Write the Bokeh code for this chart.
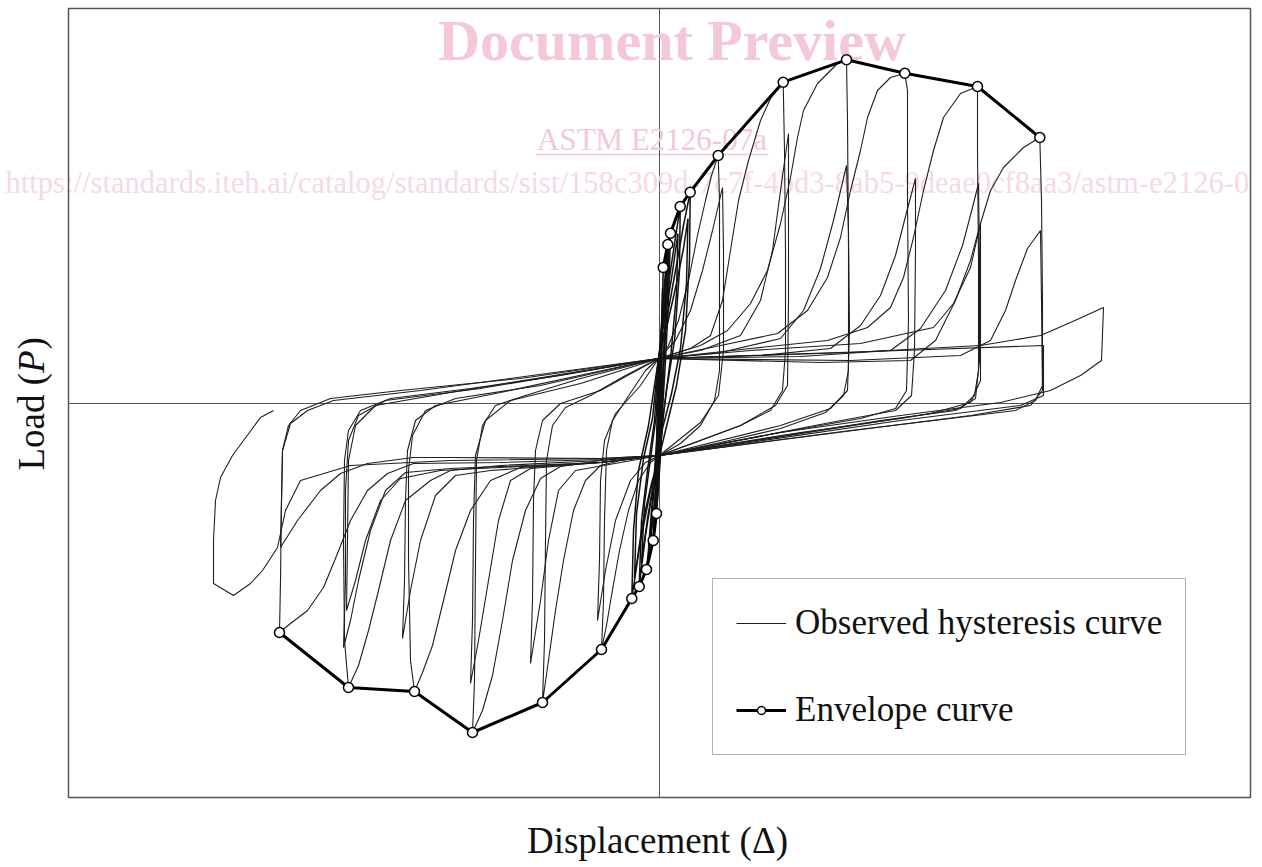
import math
from bokeh.plotting import figure
from bokeh.models import Range1d, Label, Legend, LegendItem, BoxAnnotation
from bokeh.embed import file_html
from bokeh.resources import INLINE

# ---------------- data (displacement, load) ----------------
env_pos_disp = [0.37, 0.83, 1.10, 2.07, 3.07, 5.87, 12.37, 18.70, 24.53, 31.80, 38.03]
env_pos_load = [13.60, 15.90, 17.03, 19.70, 21.13, 24.80, 32.13, 34.37, 33.03, 31.70, 26.60]
env_neg_disp = [-0.30, -0.63, -1.30, -2.03, -2.77, -5.80, -11.70, -18.70, -24.50, -31.10, -38.00]
env_neg_load = [-11.00, -13.70, -16.60, -18.30, -19.50, -24.60, -29.90, -32.90, -28.80, -28.40, -22.90]

c01_disp = [-0.3, -0.2, -0.1, 0.1, 0.3, 0.37, 0.3, 0.2, 0.1, -0.1, -0.3]
c01_load = [-11.0, -6.7, -1.7, 4.3, 10.3, 13.6, 8.3, 2.3, -2.7, -7.7, -11.0]
c01b_disp = [-0.25, -0.15, 0.0, 0.15, 0.3, 0.2, 0.1, -0.05, -0.25]
c01b_load = [-9.5, -5.0, 0.5, 6.0, 11.5, 6.0, 0.5, -5.0, -9.5]
c02_disp = [-0.63, -0.4, -0.2, -0.1, 0.0, 0.3, 0.6, 0.83, 0.7, 0.4, 0.2, 0.1, -0.2, -0.63]
c02_load = [-13.7, -8.7, -5.2, 0.3, 4.5, 9.3, 13.3, 15.9, 10.3, 4.3, -0.7, -5.2, -9.7, -13.7]
c02b_disp = [-0.55, -0.35, -0.1, 0.1, 0.4, 0.7, 0.55, 0.3, 0.05, -0.2, -0.55]
c02b_load = [-12.0, -7.0, -1.0, 4.5, 9.0, 13.5, 8.0, 2.0, -3.5, -8.0, -12.0]
c03_disp = [-1.3, -0.8, -0.4, -0.2, -0.1, 0.3, 0.7, 1.1, 0.9, 0.6, 0.3, 0.1, -0.4, -0.9, -1.3]
c03_load = [-16.6, -11.7, -6.7, -1.7, 3.3, 8.3, 12.8, 17.03, 10.3, 4.3, -0.7, -5.2, -9.7, -13.7, -16.6]
c03b_disp = [-1.1, -0.7, -0.3, -0.1, 0.3, 0.7, 0.95, 0.7, 0.4, 0.1, -0.3, -0.7, -1.1]
c03b_load = [-14.5, -9.5, -4.0, 3.5, 8.5, 12.0, 15.0, 9.0, 3.0, -4.0, -8.5, -11.5, -14.5]
c04_disp = [-2.03, -1.8, -1.2, -0.5, -0.1, 0.4, 1.1, 2.07, 2.0, 1.5, 0.7, 0.2, 0.0, -0.7, -1.4, -2.03]
c04_load = [-18.3, -11.7, -6.7, -1.7, 4.5, 8.3, 13.3, 19.7, 13.3, 6.3, 1.3, -2.7, -5.2, -8.7, -13.2, -18.3]
c04b_disp = [-1.8, -1.5, -0.9, -0.3, -0.1, 0.5, 1.2, 1.85, 1.7, 1.1, 0.4, 0.0, -0.6, -1.2, -1.8]
c04b_load = [-16.0, -10.0, -5.5, -1.0, 4.5, 8.5, 12.5, 17.0, 11.0, 4.5, -1.0, -5.2, -8.0, -11.5, -16.0]
c05_disp = [-2.77, -2.6, -2.1, -1.1, -0.1, 0.7, 1.6, 2.4, 3.07, 3.0, 2.6, 1.7, 0.6, 0.0, -0.9, -1.9, -2.77]
c05_load = [-19.5, -12.7, -6.7, -2.2, 4.5, 8.3, 13.3, 17.8, 21.13, 14.3, 7.3, 1.8, -2.7, -5.2, -8.7, -13.7, -19.5]
c05b_disp = [-2.5, -2.3, -1.6, -0.7, -0.1, 0.8, 1.7, 2.4, 2.85, 2.7, 2.1, 1.2, 0.3, 0.0, -0.8, -1.7, -2.5]
c05b_load = [-17.5, -11.0, -5.5, -1.5, 4.5, 8.0, 12.0, 15.5, 18.5, 12.0, 5.5, 1.0, -2.5, -5.2, -8.0, -12.0, -17.5]

c06_disp = [-0.1, 0.9, 1.9, 2.9, 3.8, 4.6, 5.2, 5.87, 6.0, 6.0, 6.0, 5.5, 4.1, 2.1, 0.0,
            -0.9, -2.1, -3.1, -4.0, -4.8, -5.3, -5.8, -5.6, -5.5, -5.3, -4.7, -3.4, -1.4, -0.1]
c06_load = [4.5, 5.8, 8.3, 12.3, 16.8, 20.3, 22.8, 24.8, 20.3, 10.3, 3.3, 0.3, -2.2, -4.0, -5.2,
            -5.9, -7.7, -10.7, -14.7, -19.2, -22.2, -24.6, -19.7, -11.7, -4.7, -1.7, 0.3, 3.3, 4.5]
c06b_disp = [-0.1, 1.6, 3.1, 4.3, 5.3, 6.3, 6.4, 6.4, 5.9, 4.1, 0.0,
             -1.4, -2.9, -4.4, -5.4, -6.2, -6.0, -5.9, -5.5, -4.4, -1.9, -0.1]
c06b_load = [4.5, 6.3, 9.3, 13.3, 17.3, 21.6, 15.3, 5.3, 0.8, -1.9, -5.2,
             -5.9, -7.7, -11.7, -16.7, -21.7, -15.7, -7.7, -3.7, -1.0, 1.8, 4.5]

c07_disp = [-0.1, 3.1, 5.1, 6.3, 7.1, 7.9, 8.9, 10.1, 11.1, 12.37, 12.5, 12.6, 12.6, 12.3, 11.1, 8.1, 4.1, 0.0,
            -3.9, -5.9, -7.4, -8.6, -9.6, -10.4, -11.1, -11.7, -11.5, -11.4, -11.3, -10.7, -9.4, -6.9, -3.4, -0.1]
c07_load = [4.5, 5.5, 6.8, 10.3, 15.3, 20.3, 24.3, 28.3, 30.5, 32.13, 25.3, 15.3, 5.3, 1.3, -0.7, -2.2, -3.7, -5.2,
            -5.7, -6.2, -7.7, -10.7, -15.7, -20.7, -25.7, -29.9, -23.7, -13.7, -5.7, -2.2, -0.4, 0.8, 2.8, 4.5]
c07b_disp = [-0.1, 4.1, 8.1, 10.1, 11.3, 12.1, 12.9, 12.9, 12.9, 12.8, 11.6, 8.1, 0.0,
             -3.9, -8.4, -10.1, -11.1, -11.9, -12.9, -12.7, -12.6, -12.4, -11.7, -9.9, -5.9, -0.1]
c07b_load = [4.5, 5.3, 6.8, 10.3, 15.3, 21.3, 27.0, 20.3, 10.3, 1.8, -0.2, -2.2, -5.2,
             -5.9, -6.7, -8.7, -13.7, -19.7, -26.0, -19.7, -9.7, -4.7, -1.7, 0.0, 1.3, 4.5]

c08_disp = [-0.1, 4.1, 6.8, 9.1, 10.8, 12.1, 13.1, 13.8, 14.4, 15.8, 17.8, 18.7, 18.8, 18.9, 18.9, 18.4, 16.6, 12.1, 6.1, 0.0,
            -5.9, -9.9, -11.9, -13.4, -14.7, -15.7, -16.7, -17.7, -18.7, -18.5, -18.4, -18.3, -17.7, -16.4, -13.4, -7.9, -0.1]
c08_load = [4.5, 5.8, 7.3, 10.0, 13.3, 18.0, 22.6, 26.6, 29.3, 32.0, 34.0, 34.37, 28.3, 15.3, 3.3, 0.8, -0.9, -2.5, -3.9, -5.2,
            -5.7, -6.3, -7.5, -10.7, -15.7, -21.7, -27.2, -30.7, -32.9, -27.7, -15.7, -5.7, -2.2, -0.2, 0.8, 2.5, 4.5]
c08b_disp = [-0.1, 6.1, 12.1, 14.4, 16.1, 17.4, 18.7, 18.9, 19.0, 18.8, 17.1, 12.1, 0.0,
             -5.9, -12.9, -14.9, -16.1, -17.1, -18.1, -18.9, -18.7, -18.6, -18.4, -17.4, -14.9, -7.9, -0.1]
c08b_load = [4.5, 5.1, 6.5, 9.3, 13.5, 18.3, 23.8, 17.3, 7.3, 1.3, -0.5, -2.2, -5.2,
             -5.9, -6.5, -7.7, -11.7, -17.7, -23.7, -28.0, -21.7, -11.7, -5.2, -1.7, 0.3, 2.0, 4.5]

c09_disp = [-0.1, 6.1, 11.8, 14.8, 16.8, 18.1, 19.1, 20.1, 20.8, 21.8, 23.1, 24.53, 24.8, 24.8, 24.9, 24.7, 23.6, 20.1, 12.1, 4.1, 0.0,
            -5.9, -13.9, -16.9, -18.9, -20.4, -21.6, -22.7, -23.7, -24.5, -24.9, -25.1, -25.1, -24.7, -23.4, -20.4, -11.9, -0.1]
c09_load = [4.5, 5.8, 7.0, 9.3, 12.6, 16.6, 21.3, 25.3, 28.6, 31.3, 32.6, 33.03, 31.3, 20.3, 8.3, 1.3, -0.5, -1.5, -2.9, -4.4, -5.2,
            -5.9, -6.4, -7.7, -10.7, -14.7, -19.7, -24.2, -26.9, -28.8, -25.7, -15.7, -6.7, -3.2, -0.7, 0.5, 1.8, 4.5]
c09b_disp = [-0.1, 10.1, 17.1, 20.1, 22.1, 23.6, 24.7, 25.6, 25.6, 25.5, 25.2, 23.6, 17.1, 0.0,
             -5.9, -16.9, -20.4, -22.4, -23.9, -24.9, -25.7, -25.5, -25.4, -25.2, -24.4, -22.4, -15.9, -0.1]
c09b_load = [4.5, 4.8, 5.5, 7.8, 10.8, 14.8, 19.1, 22.5, 15.3, 5.3, 0.8, -0.7, -1.9, -5.2,
             -5.9, -6.7, -7.2, -9.2, -13.7, -18.7, -23.5, -17.7, -9.7, -4.7, -1.7, -0.2, 1.1, 4.5]

c10_disp = [-0.1, 9.1, 16.8, 20.8, 23.1, 24.4, 25.4, 26.4, 27.4, 28.4, 30.1, 31.8, 31.8, 31.9, 31.9, 31.5, 30.1, 24.1, 14.1, 4.1, 0.0,
            -5.9, -15.9, -20.9, -22.9, -25.4, -26.9, -28.1, -29.1, -30.1, -31.1, -31.5, -31.6, -31.5, -31.1, -29.9, -26.9, -18.9, -9.9, -0.1]
c10_load = [4.5, 5.5, 6.3, 7.6, 9.6, 12.6, 16.6, 21.3, 25.3, 28.6, 31.0, 31.7, 25.3, 14.3, 3.3, 0.8, -0.5, -1.5, -2.9, -4.5, -5.2,
            -5.7, -6.2, -6.7, -7.7, -9.7, -13.7, -18.7, -22.7, -26.2, -28.4, -23.7, -13.7, -5.7, -2.7, -0.7, 0.5, 1.5, 2.8, 4.5]
c10b_disp = [-0.1, 14.1, 23.1, 26.1, 28.6, 30.3, 31.3, 31.9, 32.0, 32.0, 31.6, 29.6, 22.1, 0.0,
             -5.9, -20.9, -25.4, -27.4, -28.9, -30.1, -30.9, -31.6, -31.4, -31.4, -31.1, -30.1, -27.4, -17.9, -0.1]
c10b_load = [4.5, 4.7, 5.3, 7.5, 11.3, 15.8, 19.6, 22.0, 14.3, 4.3, 0.5, -0.7, -1.7, -5.2,
             -5.9, -6.5, -6.9, -8.7, -12.7, -17.7, -21.7, -24.4, -17.7, -8.7, -3.7, -1.2, 0.3, 1.5, 4.5]
c10c_disp = [-0.1, 16.1, 25.1, 27.6, 29.6, 31.1, 32.1, 32.1, 32.1, 31.1, 27.1, 0.0,
             -5.9, -21.9, -25.9, -27.9, -29.4, -30.4, -31.3, -31.2, -31.1, -30.4, -28.4, -20.9, -0.1]
c10c_load = [4.5, 4.1, 4.3, 6.3, 10.3, 14.3, 18.0, 10.3, 2.3, 0.1, -1.0, -5.2,
             -5.9, -6.7, -7.5, -9.7, -13.7, -17.7, -20.7, -13.7, -5.7, -2.2, -0.2, 1.1, 4.5]

c11_disp = [-0.1, 9.1, 20.1, 27.4, 29.4, 31.1, 32.1, 33.1, 34.4, 36.4, 38.03, 38.2, 38.3, 38.3, 37.6, 35.6, 29.1, 19.1, 9.1, 0.0,
            -5.9, -15.9, -24.6, -27.2, -29.2, -30.9, -32.2, -33.6, -35.2, -36.9, -38.0,
            -37.9, -37.8, -37.7, -37.1, -35.9, -32.9, -25.9, -13.9, -0.1]
c11_load = [4.5, 5.3, 6.0, 7.6, 10.0, 13.6, 18.0, 21.3, 23.6, 25.6, 26.6, 20.3, 10.3, 1.8, 0.3, -0.7, -1.5, -2.7, -4.0, -5.2,
            -5.6, -5.9, -6.0, -7.0, -8.7, -11.7, -15.0, -18.4, -20.7, -22.0, -22.9,
            -17.7, -9.7, -4.7, -2.2, -0.7, 0.5, 1.3, 2.5, 4.5]
c11b_disp = [-0.1, 19.1, 30.1, 33.1, 34.6, 35.6, 36.8, 38.1, 38.2, 38.3, 37.1, 31.1, 0.0,
             -5.9, -20.9, -24.6, -29.2, -31.9, -33.9, -36.2, -37.9, -37.8, -37.7, -36.9, -35.2, -32.6, -23.9, -0.1]
c11b_load = [4.5, 4.3, 4.8, 6.3, 9.3, 12.3, 15.5, 17.3, 10.3, 1.3, -0.2, -1.2, -5.2,
             -5.5, -5.4, -5.4, -6.0, -7.0, -8.7, -11.7, -14.4, -9.7, -4.7, -2.0, -0.7, 0.3, 1.3, 4.5]
c11c_disp = [-0.1, 24.1, 38.4, 38.4, 36.1, 24.1, 0.0]
c11c_load = [4.5, 5.3, 5.8, 0.8, -0.2, -1.7, -5.2]

c12_disp = [-0.1, 19.1, 32.1, 38.1, 41.1, 44.4, 44.2, 42.1, 39.1, 34.1, 24.1, 12.1, 0.0,
            -5.9, -20.9, -30.9, -35.9, -37.4, -38.2, -39.7, -40.9, -42.6, -44.6, -44.6, -44.4, -43.9, -42.7, -41.6, -39.9, -38.6]
c12_load = [4.5, 5.1, 5.8, 6.8, 8.1, 9.6, 4.3, 2.8, 1.3, 0.1, -1.2, -2.9, -5.2,
            -5.5, -5.7, -6.2, -7.7, -10.7, -14.4, -16.7, -18.0, -19.2, -18.0, -13.7, -9.7, -7.4, -5.2, -3.7, -1.4, -0.7]

small_disp = [c01_disp, c01b_disp, c02_disp, c02b_disp, c03_disp, c03b_disp, c04_disp, c04b_disp,
              c05_disp, c05b_disp]
small_load = [c01_load, c01b_load, c02_load, c02b_load, c03_load, c03b_load, c04_load, c04b_load,
              c05_load, c05b_load]
large_disp = [c06_disp, c06b_disp, c07_disp, c07b_disp, c08_disp, c08b_disp, c09_disp, c09b_disp,
              c10_disp, c10b_disp, c10c_disp, c11_disp, c11b_disp, c11c_disp, c12_disp]
large_load = [c06_load, c06b_load, c07_load, c07b_load, c08_load, c08b_load, c09_load, c09b_load,
              c10_load, c10b_load, c10c_load, c11_load, c11b_load, c11c_load, c12_load]

# plotting box limits (displacement / load extent of the axes)
disp_lim = (-59.1, 59.1)
load_lim = (-39.4, 39.5)

# ---------------- figure ----------------
SERIF = "Liberation Serif"
PINK = "#f4c8d6"
PINK_L = "#f8d9e3"
GRAY = "#555555"

p = figure(width=1260, height=864, output_backend="svg", toolbar_location=None,
           x_range=Range1d(-65.9, 60.1), y_range=Range1d(-46.1, 40.3),
           min_border=0, min_border_left=0, min_border_right=0, min_border_top=0, min_border_bottom=0)
p.xaxis.visible = False
p.yaxis.visible = False
p.grid.visible = False
p.outline_line_color = None
p.background_fill_color = "white"
p.border_fill_color = "white"

# watermark (under everything)
p.add_layout(Label(x=1.25, y=36.3, text="Document Preview", text_align="center", text_baseline="alphabetic",
                   text_font=SERIF, text_font_size="58px", text_font_style="bold", text_color=PINK, level="underlay"))
p.add_layout(Label(x=-0.75, y=26.4, text="ASTM E2126-07a", text_align="center", text_baseline="alphabetic",
                   text_font=SERIF, text_font_size="31px", text_color=PINK, level="underlay"))
ul = p.segment(x0=[-12.4], y0=[24.9], x1=[10.9], y1=[24.9], line_color=PINK, line_width=1.5)
ul.level = "underlay"
p.add_layout(Label(x=-65.4, y=22.1,
                   text="https://standards.iteh.ai/catalog/standards/sist/158c309d-7c7f-4bd3-8ab5-9deae0cf8aa3/astm-e2126-0",
                   text_align="left", text_baseline="alphabetic",
                   text_font=SERIF, text_font_size="30.6px", text_color=PINK_L, level="underlay"))

# plot box and zero axes
p.add_layout(BoxAnnotation(left=disp_lim[0], right=disp_lim[1], bottom=load_lim[0], top=load_lim[1],
                           fill_alpha=0, line_color=GRAY, line_alpha=1.0, line_width=1.5, level="underlay"))
ax = p.segment(x0=[0, disp_lim[0]], y0=[load_lim[0], 0], x1=[0, disp_lim[1]], y1=[load_lim[1], 0],
               line_color=GRAY, line_width=1)
ax.level = "underlay"

# hysteresis curves
r_obs = p.multi_line(xs=large_disp, ys=large_load, line_color="#1e1e1e", line_width=1.1)
r_small = p.multi_line(xs=small_disp, ys=small_load, line_color="#111111", line_width=1.5)

# envelope
r_env_pl = p.line(env_pos_disp, env_pos_load, line_color="black", line_width=3)
r_env_nl = p.line(env_neg_disp, env_neg_load, line_color="black", line_width=3)
r_env_pp = p.scatter(env_pos_disp, env_pos_load, marker="circle", size=10, fill_color="white",
                     line_color="black", line_width=1.5)
r_env_np = p.scatter(env_neg_disp, env_neg_load, marker="circle", size=10, fill_color="white",
                     line_color="black", line_width=1.5)

legend = Legend(items=[LegendItem(label="Observed hysteresis curve", renderers=[r_obs]),
                       LegendItem(label="Envelope curve", renderers=[r_env_pl, r_env_pp])],
                location=(712, 109), label_text_font=SERIF, label_text_font_size="35px",
                label_text_color="#111111", glyph_width=50, glyph_height=20, label_standoff=9,
                padding=23, spacing=45, label_height=42, margin=0,
                border_line_color="#666666", border_line_width=1.5,
                background_fill_color="white", background_fill_alpha=1.0)
p.add_layout(legend)

# axis titles
p.add_layout(Label(x=-0.2, y=-43.7, text="Displacement (\u0394)", text_align="center", text_baseline="alphabetic",
                   text_font=SERIF, text_font_size="37px", text_color="#111111"))
yl_x = -62.77
p.add_layout(Label(x=yl_x, y=-6.7, text="Load (", angle=math.pi / 2, text_align="left", text_baseline="alphabetic",
                   text_font=SERIF, text_font_size="37px", text_color="#111111"))
p.add_layout(Label(x=yl_x, y=3.06, text="P", angle=math.pi / 2, text_align="left", text_baseline="alphabetic",
                   text_font=SERIF, text_font_size="37px", text_font_style="italic", text_color="#111111"))
p.add_layout(Label(x=yl_x, y=5.4, text=")", angle=math.pi / 2, text_align="left", text_baseline="alphabetic",
                   text_font=SERIF, text_font_size="37px", text_color="#111111"))

open("out.html", "w").write(file_html(p, INLINE))
